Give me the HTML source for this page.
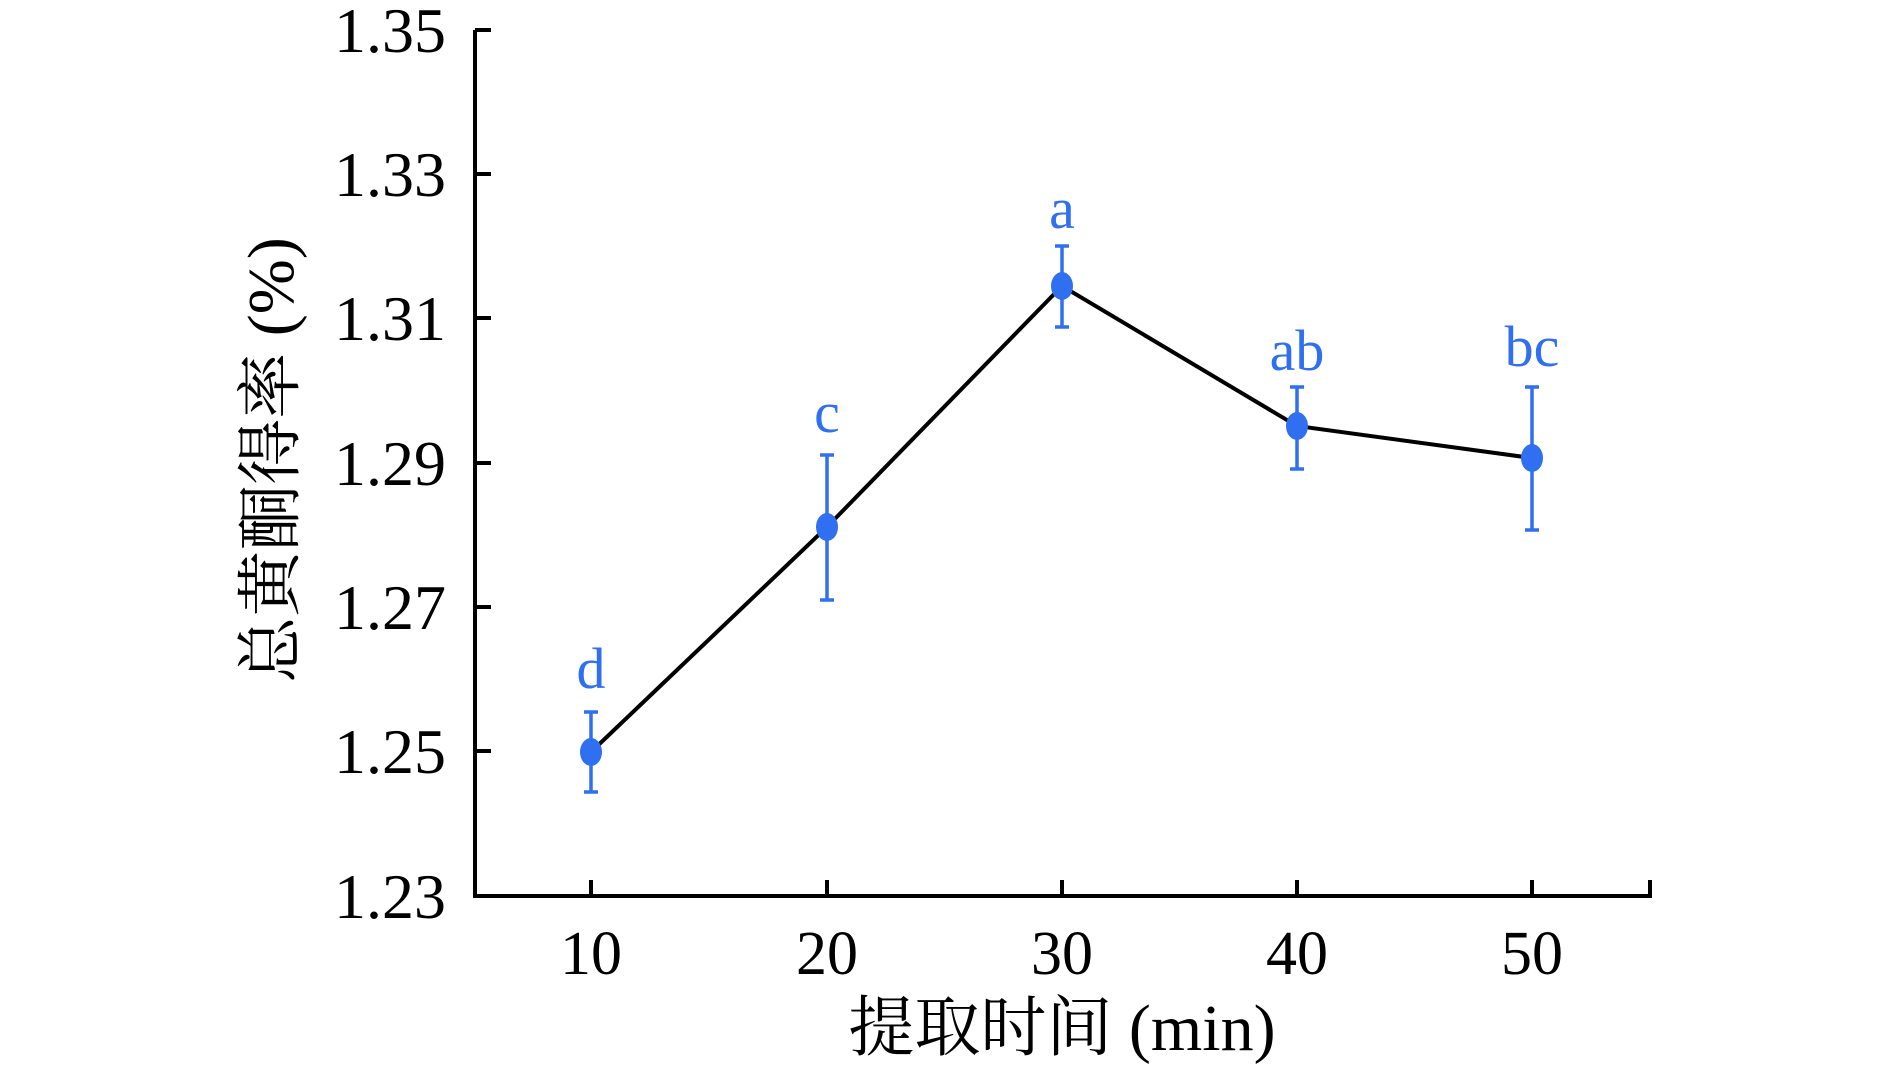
<!DOCTYPE html>
<html><head><meta charset="utf-8"><style>body{margin:0;background:#fff}</style></head>
<body>
<svg width="1890" height="1067" xmlns="http://www.w3.org/2000/svg" font-family="Liberation Serif, Noto Serif CJK SC, serif">
<g transform="translate(-5,0)">
<g stroke="#000" stroke-width="4" fill="none">
<path d="M480,30 V896 H1655 V880"/>
<path d="M480,30 h16 M480,174 h16 M480,318 h16 M480,463 h16 M480,607 h16 M480,751 h16"/>
<path d="M596,896 v-16 M832,896 v-16 M1067,896 v-16 M1302,896 v-16 M1537,896 v-16"/>
</g>
<g font-size="64" text-anchor="end" fill="#000">
<text x="451" y="52">1.35</text><text x="451" y="196">1.33</text><text x="451" y="340">1.31</text>
<text x="451" y="485">1.29</text><text x="451" y="629">1.27</text><text x="451" y="773">1.25</text><text x="451" y="918">1.23</text>
</g>
<g font-size="62" text-anchor="middle" fill="#000">
<text x="596" y="974">10</text><text x="832" y="974">20</text><text x="1067" y="974">30</text><text x="1302" y="974">40</text><text x="1537" y="974">50</text>
<text x="1067" y="1050" font-size="66">提取时间 (min)</text>
<text transform="translate(298,460) rotate(-90)" font-size="66">总黄酮得率 (%)</text>
</g>
<polyline points="596,752 832,527 1067,286 1302,426 1537,458" fill="none" stroke="#000" stroke-width="4"/>
<g stroke="#2f6ff0" stroke-width="3.5">
<path d="M596,712 V792 M589,712 h14 M589,792 h14"/>
<path d="M832,455 V600 M825,455 h14 M825,600 h14"/>
<path d="M1067,246 V327 M1060,246 h14 M1060,327 h14"/>
<path d="M1302,387 V469 M1295,387 h14 M1295,469 h14"/>
<path d="M1537,387 V530 M1530,387 h14 M1530,530 h14"/>
</g>
<g fill="#2f6ff0">
<ellipse cx="596" cy="752" rx="11" ry="14"/><ellipse cx="832" cy="527" rx="11" ry="14"/>
<ellipse cx="1067" cy="286" rx="11" ry="14"/><ellipse cx="1302" cy="426" rx="11" ry="14"/>
<ellipse cx="1537" cy="458" rx="11" ry="14"/>
</g>
<g fill="#2f6ff0" font-size="58" text-anchor="middle">
<text x="596" y="688">d</text><text x="832" y="432">c</text><text x="1067" y="228">a</text>
<text x="1302" y="370">ab</text><text x="1537" y="366">bc</text>
</g>
</g>
</svg>
</body></html>
